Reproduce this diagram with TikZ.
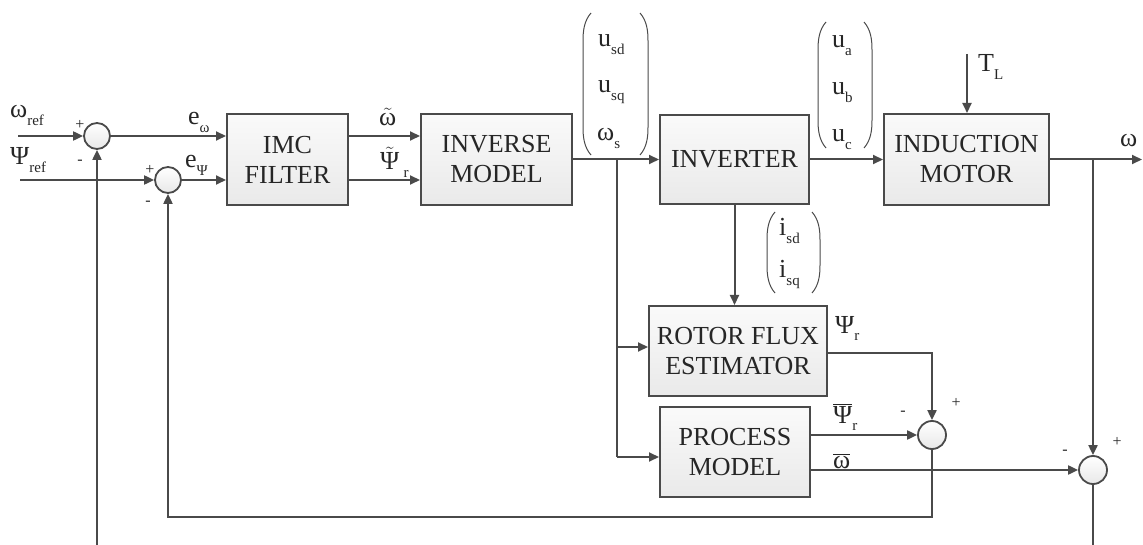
\documentclass[tikz,border=0pt]{standalone}
\usepackage{fontspec}
\setmainfont{Liberation Serif}
\usetikzlibrary{arrows.meta}
\definecolor{ln}{HTML}{4a4a4a}
\newcommand\sbs[1]{\raisebox{-0.28em}{\fontsize{15}{15}\selectfont #1}}
\newcommand\bigfont{\fontsize{26}{30}\selectfont}
\newcommand\myparen[4]{% x-left, x-right, top, bottom
  \draw[par] (#1+8,#3) .. controls (#1+1,#3+8) and (#1,#3+18) .. (#1,#3+28) -- (#1,#4-28) .. controls (#1,#4-18) and (#1+1,#4-8) .. (#1+8,#4);
  \draw[par] (#2-8,#3) .. controls (#2-1,#3+8) and (#2,#3+18) .. (#2,#3+28) -- (#2,#4-28) .. controls (#2,#4-18) and (#2-1,#4-8) .. (#2-8,#4);}
\begin{document}
\begin{tikzpicture}[x=1pt,y=-1pt,
  every node/.style={font=\bigfont, text=black!85, inner sep=0pt},
  blk/.style={draw=ln, line width=2pt, top color=gray!4, bottom color=gray!17, align=center},
  sumj/.style={circle, draw=ln, line width=1.8pt, top color=white, bottom color=gray!18, minimum size=26pt},
  wire/.style={draw=ln, line width=2pt},
  arr/.style={wire, -{Triangle[length=10pt,width=9pt]}},
  sgn/.style={font=\fontsize{16}{16}\selectfont},
  par/.style={draw=ln, line width=1pt}
]
\useasboundingbox (0,0) rectangle (1143,545);

% blocks
\node[blk, minimum width=121pt, minimum height=91pt] (imc) at (287.5,159.5) {IMC\\FILTER};
\node[blk, minimum width=151pt, minimum height=91pt] (inv) at (496.5,159.5) {INVERSE\\MODEL};
\node[blk, minimum width=149pt, minimum height=89pt] (invt) at (734.5,159.5) {INVERTER};
\node[blk, minimum width=165pt, minimum height=91pt] (mot) at (966.5,159.5) {INDUCTION\\MOTOR};
\node[blk, minimum width=178pt, minimum height=90pt] (rfe) at (738,351) {ROTOR FLUX\\ESTIMATOR};
\node[blk, minimum width=150pt, minimum height=90pt] (pm) at (735,452) {PROCESS\\MODEL};

% summing junctions
\node[sumj] (s1) at (97,136) {};
\node[sumj] (s2) at (168,180) {};
\node[sumj, minimum size=28pt] (s3) at (932,435) {};
\node[sumj, minimum size=28pt] (s4) at (1093,470) {};

% coordinates
\coordinate (wref) at (18,136);
\coordinate (pref) at (20,180);
\coordinate (tl) at (967,54);
\coordinate (wout) at (1142,159.5);
\coordinate (br1) at (1093,159.5);
\coordinate (br2) at (617,159.5);
\coordinate (fb1) at (97,545);
\coordinate (fb4) at (1093,545);
\coordinate (c3) at (932,517);
\coordinate (c2) at (168,517);
\coordinate (rin) at (617,347);
\coordinate (pin) at (617,457);
\coordinate (c3top) at (932,353);

% connectors
\draw[arr] (wref) -- (s1);
\draw[arr] (pref) -- (s2);
\draw[arr] (s1) -- (imc.west |- s1);
\draw[arr] (s2) -- (imc.west |- s2);
\draw[arr] (imc.east |- s1) -- (inv.west |- s1);
\draw[arr] (imc.east |- s2) -- (inv.west |- s2);
\draw[arr] (inv) -- (invt);
\draw[arr] (invt) -- (mot);
\draw[arr] (mot) -- (wout);
\draw[arr] (tl) -- (tl |- mot.north);
\draw[arr] (br1) -- (s4);
\draw[wire] (s4) -- (fb4);
\draw[arr] (fb1) -- (s1);
\draw[wire] (br2) -- (pin);
\draw[arr] (pin) -- (pin -| pm.west);
\draw[arr] (rin) -- (rin -| rfe.west);
\draw[arr] (invt.south) -- (invt.south |- rfe.north);
\draw[arr] (rfe.east |- c3top) -- (c3top) -- (s3);
\draw[arr] (pm.east |- s3) -- (s3);
\draw[arr] (pm.east |- s4) -- (s4);
\draw[arr] (s3) -- (c3) -- (c2) -- (s2);

% signs
\node[sgn] (p1) at (80,125) {+};
\node[sgn] (m1) at (80,162) {-};
\node[sgn] (p2) at (150,170) {+};
\node[sgn] (m2) at (148,203) {-};
\node[sgn] (p3) at (956,403) {+};
\node[sgn] (m3) at (903,413) {-};
\node[sgn] (p4) at (1117,442) {+};
\node[sgn] (m4) at (1065,452) {-};

% labels
\node[anchor=base west] (lwref) at (10,118) {ω\sbs{ref}};
\node[anchor=base west] (lpref) at (10,165) {Ψ\sbs{ref}};
\node[anchor=base west] (lew) at (188,125) {e\sbs{ω}};
\node[anchor=base west] (lep) at (185,168) {e\sbs{Ψ}};
\node[anchor=base west] (ltw) at (379,126) {$\tilde{\mbox{ω}}$};
\node[anchor=base west] (ltp) at (380,170) {$\tilde{\mbox{Ψ}}$\,\sbs{r}};

\node[anchor=base west] (usd) at (598,47) {u\sbs{sd}};
\node[anchor=base west] (usq) at (598,93) {u\sbs{sq}};
\node[anchor=base west] (ws) at (597,141) {ω\sbs{s}};
\myparen{583}{648}{13}{155}

\node[anchor=base west] (ua) at (832,48) {u\sbs{a}};
\node[anchor=base west] (ub) at (832,95) {u\sbs{b}};
\node[anchor=base west] (uc) at (832,142) {u\sbs{c}};
\myparen{818}{872}{22}{148}

\node[anchor=base west] (isd) at (779,236) {i\sbs{sd}};
\node[anchor=base west] (isq) at (779,278) {i\sbs{sq}};
\myparen{767}{820}{212}{293}

\node[anchor=base west] (ltl) at (978,72) {T\sbs{L}};
\node[anchor=base west] (lw) at (1120,147) {ω};
\node[anchor=base west] (lpr) at (835,333) {Ψ\sbs{r}};
\node[anchor=base west] (lpb) at (833,423) {$\overline{\mbox{Ψ}}$\sbs{r}};
\node[anchor=base west] (lwb) at (833,468) {$\overline{\mbox{ω}}$};
\end{tikzpicture}
\end{document}
